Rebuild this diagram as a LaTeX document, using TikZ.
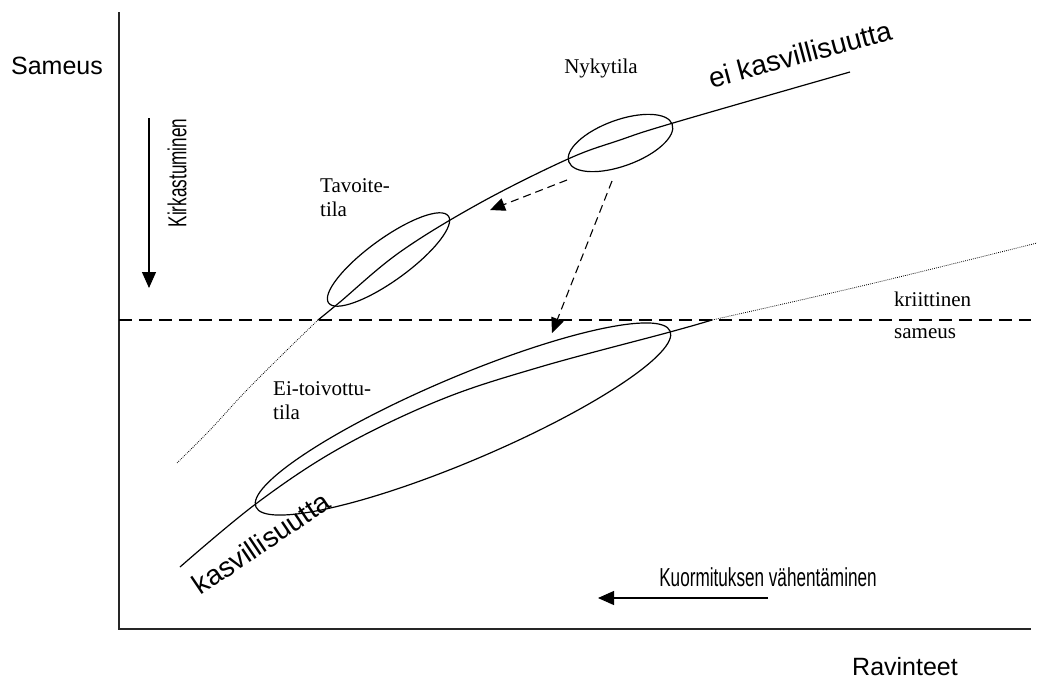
\documentclass[tikz,border=0pt]{standalone}
\usepackage{fontspec}
\setmainfont{Liberation Serif}
\newfontfamily\arialfont{Liberation Sans}
\newfontfamily\narrowfont[FakeStretch=0.66]{Liberation Sans}
\usetikzlibrary{arrows.meta}
\begin{document}
\begin{tikzpicture}[x=1pt,y=-1pt,
  axisline/.style={line width=1.6pt, draw=black!85},
  curveline/.style={line width=1.2pt},
  dotline/.style={line width=0.8pt, dash pattern=on 0.8pt off 1.2pt},
  critline/.style={line width=1.1pt, dash pattern=on 13pt off 7pt},
  movearrow/.style={line width=1.1pt, dash pattern=on 8pt off 5pt, -{Triangle[length=15pt,width=13pt]}},
  solidarrow/.style={line width=1.1pt, -{Triangle[length=16pt,width=14pt]}},
  statebox/.style={line width=1.2pt},
  serifsm/.style={font=\fontsize{21}{24}\selectfont, inner sep=0pt, align=left},
  sanslbl/.style={font=\arialfont\fontsize{25}{30}\selectfont, inner sep=0pt},
  curvelbl/.style={font=\arialfont\fontsize{28}{32}\selectfont, inner sep=0pt},
  narrowlbl/.style={font=\narrowfont\fontsize{26}{30}\selectfont, inner sep=0pt}
]
\useasboundingbox (0,0) rectangle (1037,681);
\fill[white] (0,0) rectangle (1037,681);

% axes
\coordinate (ytop) at (119,12);
\coordinate (orig) at (119,629);
\coordinate (xend) at (1031,629);
\draw[axisline] (ytop) -- (orig) -- (xend);

% critical turbidity line
\coordinate (critL) at (119,320);
\coordinate (critR) at (1031,320);
\draw[critline] (critL) -- (critR);

% upper branch (no vegetation)
\draw[curveline] plot[smooth, tension=0.6] coordinates {(318,320) (340,302) (400,252) (480,203) (568,159) (620,140) (673,123) (850,72)};
\draw[dotline] plot[smooth, tension=0.6] coordinates {(318,320) (285,352) (245,392) (210,430) (177,463)};

% lower branch (vegetation)
\draw[curveline] plot[smooth, tension=0.6] coordinates {(180,567) (257,503) (340,448) (440,400) (540,367) (670,332) (712,320)};
\draw[dotline] plot[smooth, tension=0.6] coordinates {(712,320) (870,284) (1037,243)};

% state ellipses
\coordinate (nyky) at (620.5,143);
\coordinate (tavo) at (388.5,259.5);
\coordinate (eitoi) at (463,419);
\draw[statebox, rotate around={20:(nyky)}] (nyky) ellipse [x radius=55, y radius=23];
\draw[statebox, rotate around={36:(tavo)}] (tavo) ellipse [x radius=74, y radius=21];
\draw[statebox, rotate around={23:(eitoi)}] (eitoi) ellipse [x radius=225, y radius=42];

% transition arrows
\coordinate (a1s) at (567,180);
\coordinate (a1e) at (490,210);
\coordinate (a2s) at (612,181);
\coordinate (a2e) at (552,333);
\draw[movearrow] (a1s) -- (a1e);
\draw[movearrow] (a2s) -- (a2e);

% Kirkastuminen arrow
\coordinate (k1) at (149,118);
\coordinate (k2) at (149,288);
\draw[solidarrow] (k1) -- (k2);
\node[narrowlbl, rotate=90] (kirk) at (177,173) {Kirkastuminen};

% Kuormitus arrow
\coordinate (r1) at (768,598);
\coordinate (r2) at (598,598);
\draw[solidarrow] (r1) -- (r2);
\node[narrowlbl] (kuorm) at (768,577) {Kuormituksen vähentäminen};

% axis labels
\node[sanslbl] (sameus) at (57,66) {Sameus};
\node[sanslbl] (ravinteet) at (905,667) {Ravinteet};

% curve labels
\node[curvelbl, rotate=15] (eikasv) at (800,54) {ei kasvillisuutta};
\node[curvelbl, rotate=34] (kasv) at (261,543) {kasvillisuutta};

% state labels
\node[serifsm] (nykylbl) at (601,68) {Nykytila};
\node[serifsm, anchor=west] (tavolbl) at (320,198) {Tavoite-\\tila};
\node[serifsm, anchor=west] (eilbl) at (273,401) {Ei-toivottu-\\tila};
\node[serifsm, anchor=west] (krit) at (894,299) {kriittinen};
\node[serifsm, anchor=west] (krit2) at (894,334) {sameus};
\end{tikzpicture}
\end{document}
